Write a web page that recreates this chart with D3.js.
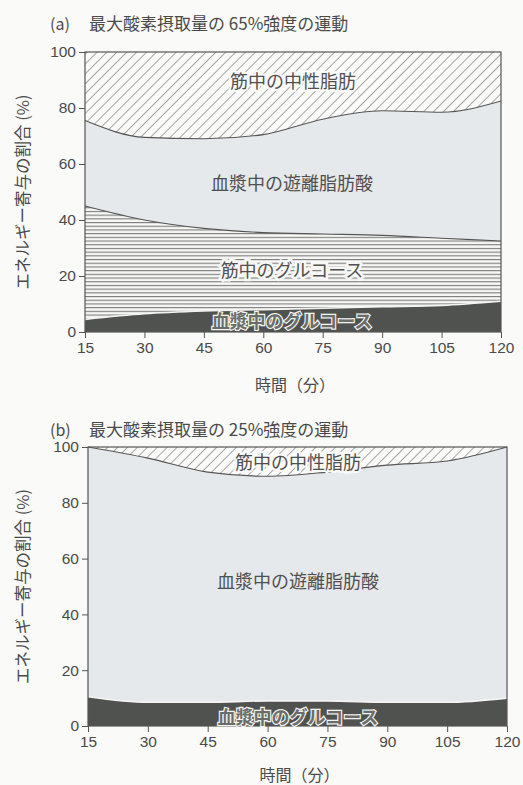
<!DOCTYPE html>
<html>
<head>
<meta charset="utf-8">
<script src="https://cdn.jsdelivr.net/npm/d3@7"></script>
<style>
  html, body { margin: 0; padding: 0; background: #fafaf8; }
  svg { display: block; }
  text { font-family: "Noto Sans CJK JP", "Noto Sans", sans-serif; }
</style>
</head>
<body>
<svg id="chart" width="523" height="785"></svg>
<script>
// Time points (minutes)
const minutes = [15, 30, 45, 60, 75, 90, 105, 120];
const yTicks = [0, 20, 40, 60, 80, 100];

// Series names (bottom to top of the stack)
const seriesNames = ["血漿中のグルコース", "筋中のグルコース", "血漿中の遊離脂肪酸", "筋中の中性脂肪"];

// (a) 65% VO2max — contribution of each fuel (%)
const plasmaGlucoseA = [4.5, 6.5, 7.5, 8, 8.5, 9, 9.5, 11];
const muscleGlucoseA = [40.5, 33.5, 29.5, 27.5, 26.5, 25.5, 24, 21.5];
const plasmaFFA_A    = [30.5, 29.5, 32, 35, 41, 44.5, 45, 50];
const muscleTG_A     = [24.5, 30.5, 31, 29.5, 24, 21, 21.5, 17.5];

// (b) 25% VO2max
const plasmaGlucoseB = [10.5, 8.5, 8.5, 9, 9, 8.5, 8.5, 10];
const muscleGlucoseB = [0, 0, 0, 0, 0, 0, 0, 0];
const plasmaFFA_B    = [89.5, 87.5, 82.5, 80.5, 82, 85, 86.5, 90];
const muscleTG_B     = [0, 4, 9, 10.5, 9, 6.5, 5, 0];

const panelTags = ["(a)", "(b)"];
const titleA = "最大酸素摂取量の 65%強度の運動";
const titleB = "最大酸素摂取量の 25%強度の運動";
const yLabel = "エネルギー寄与の割合 (%)";
const xLabel = "時間（分）";

const svg = d3.select("#chart");
const ink = "#4a4a4a";

// Fill patterns
const defs = svg.append("defs");
const diag = defs.append("pattern")
  .attr("id", "diag").attr("patternUnits", "userSpaceOnUse")
  .attr("width", 7).attr("height", 7)
  .attr("patternTransform", "rotate(45)");
diag.append("rect").attr("width", 7).attr("height", 7).attr("fill", "#fbfbfa");
diag.append("line").attr("x1", 0).attr("y1", 0).attr("x2", 0).attr("y2", 7)
  .attr("stroke", "#5e5e5e").attr("stroke-width", 1.1);

const horiz = defs.append("pattern")
  .attr("id", "horiz").attr("patternUnits", "userSpaceOnUse")
  .attr("width", 10).attr("height", 3.7);
horiz.append("rect").attr("width", 10).attr("height", 3.7).attr("fill", "#f7f7f5");
horiz.append("line").attr("x1", 0).attr("y1", 0.6).attr("x2", 10).attr("y2", 0.6)
  .attr("stroke", "#6e6e6e").attr("stroke-width", 1);

const fills = ["#4f524f", "url(#horiz)", "#e6e9ec", "url(#diag)"];

function drawPanel(cfg) {
  const { left, right, top, bottom, series, tag, title, titleY, labels } = cfg;
  const g = svg.append("g");

  const x = d3.scaleLinear().domain([15, 120]).range([left, right]);
  const y = d3.scaleLinear().domain([0, 100]).range([bottom, top]);

  const rows = minutes.map((m, i) => {
    const r = { t: m };
    seriesNames.forEach((n, k) => { r[n] = series[k][i]; });
    return r;
  });
  const stacked = d3.stack().keys(seriesNames)(rows);

  const area = d3.area()
    .x(d => x(d.data.t)).y0(d => y(d[0])).y1(d => y(d[1]))
    .curve(d3.curveMonotoneX);
  const line = d3.line()
    .x(d => x(d.data.t)).y(d => y(d[1]))
    .curve(d3.curveMonotoneX);

  g.selectAll("path.area").data(stacked).join("path")
    .attr("class", "area")
    .attr("d", area)
    .attr("fill", (d, i) => fills[i]);

  // boundaries between layers
  g.selectAll("path.edge").data(stacked.slice(0, 3).filter((s, i) => d3.max(series[i]) > 0))
    .join("path")
    .attr("class", "edge")
    .attr("d", line)
    .attr("fill", "none")
    .attr("stroke", d => d.index === 0 ? "#f4f4f2" : "#555")
    .attr("stroke-width", d => d.index === 0 ? 1.6 : 1.1);

  // frame
  g.append("rect")
    .attr("x", left).attr("y", top)
    .attr("width", right - left).attr("height", bottom - top)
    .attr("fill", "none").attr("stroke", "#555").attr("stroke-width", 1.2);

  // axes
  const yAxis = g.append("g").attr("transform", `translate(${left},0)`)
    .call(d3.axisLeft(y).tickValues(yTicks).tickSize(6).tickPadding(3));
  const xAxis = g.append("g").attr("transform", `translate(0,${bottom})`)
    .call(d3.axisBottom(x).tickValues(minutes).tickSize(6).tickPadding(4));
  [yAxis, xAxis].forEach(a => {
    a.select(".domain").remove();
    a.selectAll("line").attr("stroke", "#555");
    a.selectAll("text").attr("fill", ink)
      .style("font-family", "'Liberation Sans', Arial, sans-serif").style("font-size", "15.5px");
  });

  // titles
  g.append("text").attr("x", 50).attr("y", titleY)
    .attr("fill", ink).style("font-size", "16px").text(tag);
  g.append("text").attr("x", 89).attr("y", titleY)
    .attr("fill", ink).style("font-size", "17px").text(title);
  g.append("text")
    .attr("transform", `translate(22,${(top + bottom) / 2}) rotate(-90)`)
    .attr("text-anchor", "middle").attr("dominant-baseline", "central")
    .attr("fill", ink).style("font-size", "16.5px").text(yLabel);
  g.append("text").attr("x", (left + right) / 2 + 2).attr("y", cfg.xLabelY)
    .attr("text-anchor", "middle").attr("fill", ink)
    .style("font-size", "16px").text(xLabel);

  // series labels
  labels.forEach(l => {
    const t = g.append("text")
      .attr("x", l.x).attr("y", l.y)
      .attr("text-anchor", "middle").attr("dominant-baseline", "central")
      .style("font-size", "18px")
      .attr("paint-order", "stroke")
      .text(seriesNames[l.k]);
    if (l.k === 0) {
      t.attr("fill", "#6a6d6a").attr("stroke", "#f2f2f0").attr("stroke-width", 2.4)
        .style("font-weight", "bold");
    } else if (l.k === 1) {
      t.attr("fill", "#505050").attr("stroke", "#f7f7f5").attr("stroke-width", 5);
    } else if (l.k === 3) {
      t.attr("fill", "#505050").attr("stroke", "#fbfbfa").attr("stroke-width", 4);
    } else {
      t.attr("fill", "#505050");
    }
  });
}

drawPanel({
  left: 85, right: 501, top: 52, bottom: 332,
  series: [plasmaGlucoseA, muscleGlucoseA, plasmaFFA_A, muscleTG_A],
  tag: panelTags[0], title: titleA, titleY: 30, xLabelY: 391,
  labels: [
    { k: 3, x: 293, y: 80 },
    { k: 2, x: 292, y: 182 },
    { k: 1, x: 292, y: 269 },
    { k: 0, x: 292, y: 320 }
  ]
});

drawPanel({
  left: 88, right: 507, top: 447, bottom: 726,
  series: [plasmaGlucoseB, muscleGlucoseB, plasmaFFA_B, muscleTG_B],
  tag: panelTags[1], title: titleB, titleY: 436, xLabelY: 781,
  labels: [
    { k: 3, x: 298, y: 461 },
    { k: 2, x: 298, y: 580 },
    { k: 0, x: 298, y: 716 }
  ]
});
</script>
</body>
</html>
